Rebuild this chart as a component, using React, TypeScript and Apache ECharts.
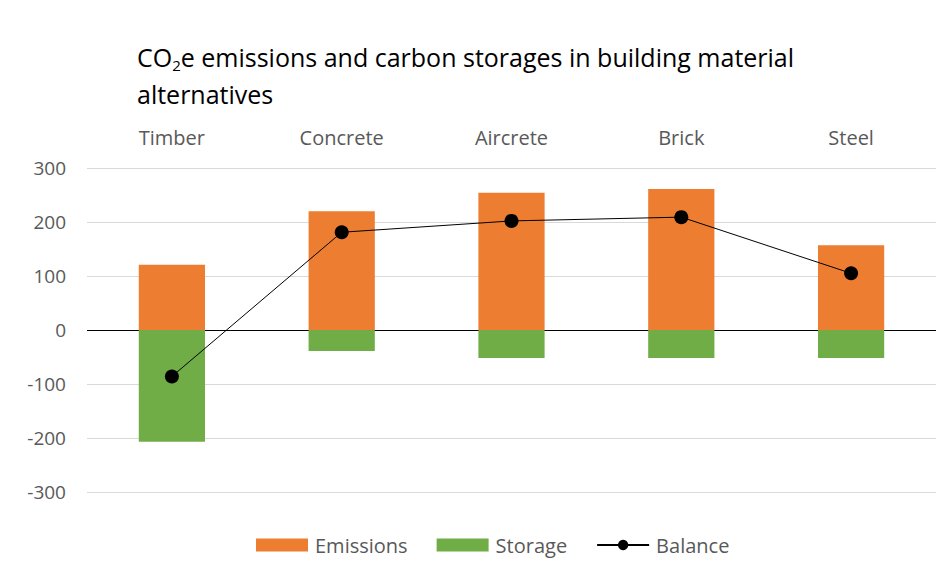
import React, { useEffect, useRef } from "react";
import * as echarts from "echarts";

const categories = ["Timber", "Concrete", "Aircrete", "Brick", "Steel"];
const emissions = [121, 220, 254, 261, 157];
const storage = [-207, -39, -52, -52, -52];
const balance = [-86, 181, 202, 209, 105];
const yTicks = { min: -300, max: 300, interval: 100 };

const FONT = "Open Sans";

export default function App() {
  const ref = useRef<HTMLDivElement>(null);
  useEffect(() => {
    const chart = echarts.init(ref.current!, null, { renderer: "svg" });
    const splitColors: string[] = [];
    for (let v = yTicks.min; v <= yTicks.max; v += yTicks.interval) {
      splitColors.push(v === 0 ? "#000000" : "#d9d9d9");
    }
    chart.setOption({
      animation: false,
      backgroundColor: "#ffffff",
      title: {
        text: "{a|CO}{s|2}{a|e emissions and carbon storages in building material}\n{a|alternatives}",
        left: 132,
        top: 33,
        textStyle: {
          rich: {
            a: { fontFamily: FONT, fontSize: 25, fontWeight: "normal", color: "#000000", lineHeight: 37 },
            s: { fontFamily: FONT, fontSize: 15, fontWeight: "normal", color: "#000000", lineHeight: 37, padding: [17, 0, 0, 0] },
          },
        },
      },
      legend: {
        bottom: 14,
        left: 251,
        itemWidth: 52,
        itemHeight: 13,
        itemGap: 29,
        textStyle: { fontFamily: FONT, fontSize: 20, color: "#595959", padding: [0, 0, 0, 2] },
        data: [
          { name: "Emissions", icon: "rect" },
          { name: "Storage", icon: "rect" },
          { name: "Balance" },
        ],
      },
      grid: { left: 87, right: 14, top: 168, bottom: 82 },
      xAxis: {
        type: "category",
        data: categories,
        position: "top",
        axisLine: { show: false },
        axisTick: { show: false },
        axisLabel: { fontFamily: FONT, fontSize: 20, color: "#595959", margin: 21 },
      },
      yAxis: {
        type: "value",
        min: yTicks.min,
        max: yTicks.max,
        interval: yTicks.interval,
        axisLine: { show: false },
        axisTick: { show: false },
        axisLabel: { fontFamily: FONT, fontSize: 19, color: "#595959", margin: 21 },
        splitLine: { lineStyle: { color: splitColors, width: 1 } },
      },
      series: [
        {
          name: "Emissions",
          type: "bar",
          stack: "s",
          data: emissions,
          barWidth: "39%",
          itemStyle: { color: "#ed7d31" },
        },
        {
          name: "Storage",
          type: "bar",
          stack: "s",
          data: storage,
          barWidth: "39%",
          itemStyle: { color: "#70ad47" },
        },
        {
          name: "Balance",
          type: "line",
          data: balance,
          symbol: "circle",
          symbolSize: 14,
          itemStyle: { color: "#000000" },
          lineStyle: { color: "#000000", width: 1 },
          z: 5,
        },
      ],
    });
    return () => chart.dispose();
  }, []);
  return <div ref={ref} style={{ width: 950, height: 574, position: "absolute", left: 0, top: 0 }} />;
}
